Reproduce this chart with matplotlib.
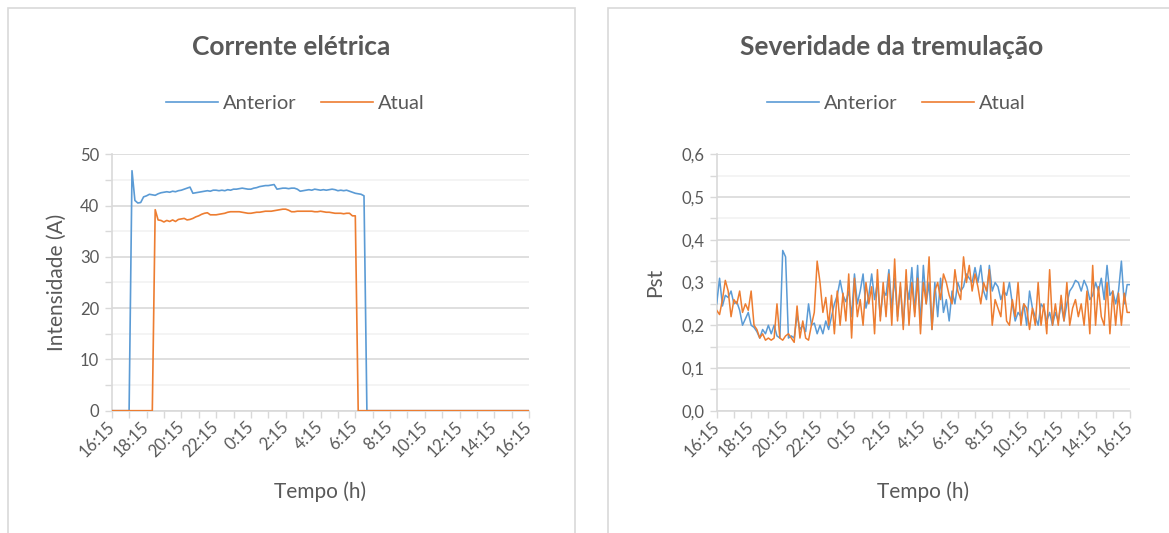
import numpy as np
import matplotlib
matplotlib.use("Agg")
import matplotlib.pyplot as plt
from matplotlib.patches import Rectangle
from matplotlib.lines import Line2D
from matplotlib.ticker import FixedLocator, MultipleLocator, FuncFormatter

plt.rcParams['font.family'] = ['Lato', 'DejaVu Sans']

# ---------------- data ----------------
sample_minutes = 10  # sampling step of both series
tick_labels = ['16:15', '18:15', '20:15', '22:15', '0:15', '2:15', '4:15',
               '6:15', '8:15', '10:15', '12:15', '14:15', '16:15']
series_names = ['Anterior', 'Atual']

# Corrente elétrica (A), 10-min samples from 16:15 to 16:15
corrente_anterior = (
    [0.0] * 7 +
    [46.8, 41.0, 40.5, 40.6, 41.7, 41.9, 42.2, 42.1, 42.0, 42.3, 42.5, 42.6,
     42.7, 42.6, 42.8, 42.7, 42.9, 43.0, 43.2, 43.4, 43.6, 42.4, 42.5, 42.6,
     42.7, 42.8, 42.9, 42.8, 43.0, 43.0, 42.9, 43.0, 42.9, 43.1, 43.0, 43.2,
     43.2, 43.3, 43.4, 43.3, 43.2, 43.2, 43.4, 43.5, 43.7, 43.8, 43.9, 43.9,
     44.0, 44.1, 43.2, 43.3, 43.4, 43.4, 43.3, 43.4, 43.4, 43.2, 42.8, 42.9,
     43.0, 43.1, 43.0, 43.2, 43.1, 43.0, 43.1, 43.0, 43.1, 43.2, 43.1, 42.9,
     43.0, 42.9, 43.0, 42.8, 42.6, 42.4, 42.3, 42.2, 41.9] +
    [0.0] * 57
)
corrente_atual = (
    [0.0] * 15 +
    [39.2, 37.2, 37.1, 36.8, 37.1, 36.9, 37.2, 36.9, 37.3, 37.4, 37.5, 37.2,
     37.3, 37.5, 37.8, 38.0, 38.3, 38.5, 38.6, 38.2, 38.2, 38.2, 38.3, 38.4,
     38.5, 38.7, 38.8, 38.8, 38.8, 38.8, 38.7, 38.6, 38.5, 38.5, 38.6, 38.7,
     38.7, 38.8, 38.9, 38.9, 38.9, 39.0, 39.1, 39.2, 39.3, 39.3, 39.1, 38.8,
     38.8, 38.9, 38.9, 38.9, 38.9, 38.9, 38.9, 38.8, 38.8, 38.9, 38.8, 38.7,
     38.7, 38.6, 38.5, 38.5, 38.5, 38.4, 38.5, 38.5, 38.0, 38.0] +
    [0.0] * 60
)

# Severidade da tremulação (Pst), 10-min samples
pst_anterior = [
    0.25, 0.31, 0.245, 0.27, 0.265, 0.28,
    0.25, 0.255, 0.235, 0.20, 0.215, 0.23,
    0.20, 0.195, 0.185, 0.17, 0.19, 0.18,
    0.20, 0.18, 0.20, 0.175, 0.17, 0.375,
    0.36, 0.17, 0.175, 0.17, 0.225, 0.19,
    0.20, 0.185, 0.25, 0.20, 0.205, 0.18,
    0.20, 0.18, 0.21, 0.19, 0.22, 0.25,
    0.27, 0.305, 0.27, 0.255, 0.28, 0.22,
    0.32, 0.25, 0.28, 0.32, 0.24, 0.27,
    0.32, 0.26, 0.30, 0.22, 0.28, 0.27,
    0.33, 0.24, 0.31, 0.22, 0.29, 0.20,
    0.30, 0.26, 0.335, 0.23, 0.34, 0.20,
    0.34, 0.25, 0.30, 0.19, 0.30, 0.22,
    0.31, 0.23, 0.26, 0.21, 0.28, 0.25,
    0.30, 0.28, 0.29, 0.32, 0.31, 0.30,
    0.335, 0.30, 0.34, 0.28, 0.26, 0.34,
    0.28, 0.30, 0.29, 0.26, 0.28, 0.27,
    0.30, 0.25, 0.21, 0.23, 0.22, 0.25,
    0.20, 0.28, 0.24, 0.22, 0.20, 0.25,
    0.24, 0.21, 0.23, 0.20, 0.23, 0.21,
    0.25, 0.21, 0.25, 0.28, 0.29, 0.305,
    0.30, 0.28, 0.305, 0.29, 0.26, 0.27,
    0.30, 0.28, 0.31, 0.26, 0.34, 0.27,
    0.28, 0.25, 0.28, 0.35, 0.25, 0.295,
    0.295,
]
pst_atual = [
    0.235, 0.225, 0.26, 0.305, 0.28, 0.22,
    0.26, 0.25, 0.28, 0.23, 0.25, 0.235,
    0.28, 0.20, 0.19, 0.17, 0.18, 0.165,
    0.17, 0.165, 0.17, 0.25, 0.17, 0.165,
    0.175, 0.18, 0.17, 0.16, 0.245, 0.17,
    0.21, 0.17, 0.165, 0.20, 0.23, 0.35,
    0.30, 0.23, 0.265, 0.20, 0.27, 0.18,
    0.28, 0.20, 0.275, 0.21, 0.32, 0.17,
    0.31, 0.22, 0.26, 0.20, 0.30, 0.25,
    0.29, 0.18, 0.33, 0.21, 0.30, 0.22,
    0.32, 0.20, 0.355, 0.21, 0.30, 0.19,
    0.33, 0.20, 0.30, 0.22, 0.31, 0.18,
    0.30, 0.25, 0.36, 0.19, 0.28, 0.30,
    0.26, 0.32, 0.30, 0.27, 0.25, 0.33,
    0.28, 0.26, 0.36, 0.30, 0.34, 0.28,
    0.32, 0.29, 0.25, 0.30, 0.28, 0.33,
    0.20, 0.26, 0.24, 0.22, 0.30, 0.21,
    0.20, 0.26, 0.22, 0.30, 0.20, 0.25,
    0.24, 0.19, 0.24, 0.20, 0.30, 0.20,
    0.25, 0.18, 0.33, 0.20, 0.25, 0.20,
    0.27, 0.21, 0.30, 0.20, 0.24, 0.26,
    0.22, 0.25, 0.20, 0.28, 0.18, 0.34,
    0.20, 0.29, 0.22, 0.20, 0.30, 0.18,
    0.28, 0.20, 0.275, 0.20, 0.275, 0.23,
    0.23,
]

# ---------------- style ----------------
W, H = 1169, 533
BLUE = '#5B9BD5'
ORANGE = '#ED7D31'
TXT = '#595959'
GRID = '#D9D9D9'
GRID_MINOR = '#F2F2F2'

fig = plt.figure(figsize=(W / 100, H / 100), dpi=100)
fig.patch.set_facecolor('white')


def fx(x):
    return x / W


def fy(y):
    return 1 - y / H


# panel borders
for x0, x1 in [(8, 575), (608, 1178)]:
    fig.add_artist(Rectangle((fx(x0), -0.1), fx(x1) - fx(x0), fy(8) + 0.1,
                             transform=fig.transFigure, fill=False,
                             ec=GRID, lw=1.2))


def make_axes(x0, x1, y0, y1):
    return fig.add_axes([fx(x0), fy(y1), fx(x1) - fx(x0), (y1 - y0) / H])


def style_axes(ax, ymax, major, minor, fmt):
    hours = 24
    ax.set_xlim(0, hours)
    ax.set_ylim(0, ymax)
    ax.xaxis.set_major_locator(FixedLocator(np.arange(0, hours + 1, 1)))
    labels = []
    for h in range(hours + 1):
        labels.append(tick_labels[h // 2] if h % 2 == 0 else '')
    ax.set_xticklabels(labels, rotation=45, ha='right', va='center',
                       rotation_mode='anchor', color=TXT, fontsize=12)
    ax.tick_params(axis='x', which='major', direction='out', length=5,
                   width=1, color=GRID, pad=5)
    ax.yaxis.set_major_locator(MultipleLocator(major))
    ax.yaxis.set_minor_locator(MultipleLocator(minor))
    ax.yaxis.set_major_formatter(FuncFormatter(fmt))
    ax.tick_params(axis='y', which='both', direction='out', length=5,
                   width=1, color=GRID, labelcolor=TXT, labelsize=12, pad=4)
    ax.grid(axis='y', which='major', color=GRID, lw=1.2)
    ax.grid(axis='y', which='minor', color=GRID_MINOR, lw=1.2)
    ax.set_axisbelow(True)
    for s in ['top', 'right']:
        ax.spines[s].set_visible(False)
    for s in ['left', 'bottom']:
        ax.spines[s].set_color(GRID)
        ax.spines[s].set_linewidth(1.2)


t = np.arange(len(corrente_anterior)) * sample_minutes / 60.0
t2 = np.arange(len(pst_anterior)) * sample_minutes / 60.0

# left chart
ax1 = make_axes(111.7, 529.3, 154.3, 410.7)
style_axes(ax1, 50, 10, 5, lambda v, p: f'{v:.0f}')
ax1.plot(t, corrente_anterior, color=BLUE, lw=1.2, zorder=3)
ax1.plot(t, corrente_atual, color=ORANGE, lw=1.2, zorder=3)

# right chart
ax2 = make_axes(716.7, 1130, 154.3, 410.7)
style_axes(ax2, 0.6, 0.1, 0.05, lambda v, p: f'{v:.1f}'.replace('.', ','))
ax2.plot(t2, pst_anterior, color=BLUE, lw=1.1, zorder=3)
ax2.plot(t2, pst_atual, color=ORANGE, lw=1.1, zorder=3)

# titles
fig.text(fx(291), fy(47), 'Corrente elétrica', ha='center', va='center',
         fontsize=19, fontweight='bold', color=TXT)
fig.text(fx(892), fy(47), 'Severidade da tremulação', ha='center',
         va='center', fontsize=19, fontweight='bold', color=TXT)

# axis labels
fig.text(fx(320), fy(492), 'Tempo (h)', ha='center', va='center',
         fontsize=15, color=TXT)
fig.text(fx(923), fy(492), 'Tempo (h)', ha='center', va='center',
         fontsize=15, color=TXT)
fig.text(fx(57), fy(282), 'Intensidade (A)', ha='center', va='center',
         rotation=90, fontsize=15, color=TXT)
fig.text(fx(655), fy(282), 'Pst', ha='center', va='center',
         rotation=90, fontsize=15, color=TXT)

# legends
handles = [Line2D([], [], color=BLUE, lw=1.2), Line2D([], [], color=ORANGE, lw=1.2)]
for cx in [295.5, 896.5]:
    fig.legend(handles, series_names, loc='center',
               bbox_to_anchor=(fx(cx), fy(103)), ncol=2, frameon=False,
               fontsize=14.5, handlelength=2.6, handletextpad=0.25,
               columnspacing=1.2, labelcolor=TXT)

fig.savefig('out.png', dpi=100, facecolor='white')
